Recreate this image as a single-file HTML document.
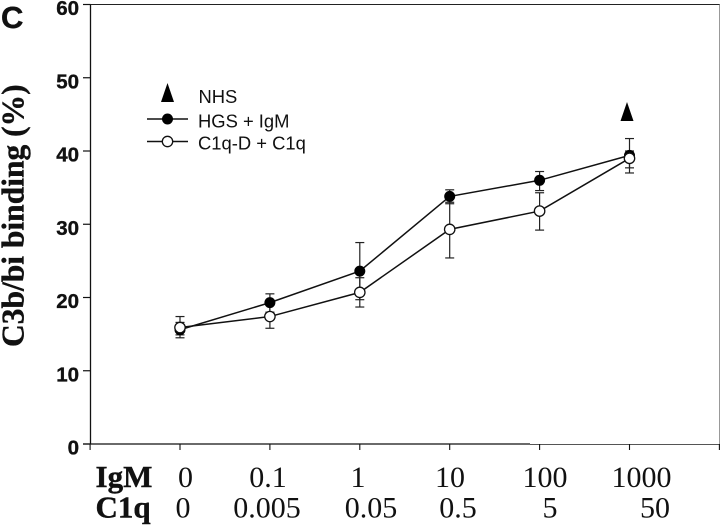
<!DOCTYPE html>
<html lang="en">
<head>
<meta charset="utf-8">
<title>C3b/bi binding chart</title>
<style>
html,body{margin:0;padding:0;background:#fff;width:720px;height:525px;overflow:hidden}
svg{display:block}
.ytick{font:bold 20.5px "Liberation Sans",sans-serif;fill:#111;stroke:#111;stroke-width:.35}
.leg{font:18.4px "Liberation Sans",sans-serif;fill:#111}
.xl{font:30px "Liberation Serif",serif;fill:#111;text-anchor:middle}
.xh{font:bold 31px "Liberation Serif",serif;fill:#111;stroke:#111;stroke-width:.4}
</style>
</head>
<body>
<svg id="chart" xmlns="http://www.w3.org/2000/svg" width="720" height="525" viewBox="0 0 720 525">
  <text x="1" y="28" style="font:bold 31px 'Liberation Sans',sans-serif;fill:#111;stroke:#111;stroke-width:.4">C</text>
  <text transform="translate(23.5,347) rotate(-90)" style="font:bold 31.5px 'Liberation Serif',serif;fill:#111;stroke:#111;stroke-width:.4">C3b/bi binding (%)</text>

  <g id="axes"></g>
  <g id="series"></g>

  <g>
    <polygon points="167.5,83 161,102 174,102" fill="#000"/>
    <text class="leg" x="198.5" y="103">NHS</text>
    <line x1="147" x2="188" y1="119" y2="119" stroke="#111" stroke-width="1.4"/>
    <circle cx="167.5" cy="119" r="5.5" fill="#000"/>
    <text class="leg" x="198" y="127.5">HGS + IgM</text>
    <line x1="147" x2="188" y1="141.5" y2="141.5" stroke="#111" stroke-width="1.4"/>
    <circle cx="167.5" cy="141.5" r="5.2" fill="#fff" stroke="#111" stroke-width="1.3"/>
    <text class="leg" x="198" y="149.5">C1q-D + C1q</text>
  </g>

  <g>
    <text class="xh" x="95.5" y="487">IgM</text>
    <text class="xl" x="185.5" y="487">0</text>
    <text class="xl" x="268" y="487">0.1</text>
    <text class="xl" x="358" y="487">1</text>
    <text class="xl" x="450" y="487">10</text>
    <text class="xl" x="545" y="487">100</text>
    <text class="xl" x="641.5" y="487">1000</text>
  </g>
  <g>
    <text class="xh" x="95.5" y="517.5">C1q</text>
    <text class="xl" x="183" y="517.5">0</text>
    <text class="xl" x="267" y="517.5">0.005</text>
    <text class="xl" x="371" y="517.5">0.05</text>
    <text class="xl" x="458" y="517.5">0.5</text>
    <text class="xl" x="550" y="517.5">5</text>
    <text class="xl" x="655" y="517.5">50</text>
  </g>
</svg>
<script>
const categories = ['0', '0.1', '1', '10', '100', '1000'];
const yTickValues = [0, 10, 20, 30, 40, 50, 60];
const hgsValues = [15.6, 19.3, 23.6, 33.8, 36.0, 39.4];
const hgsUpper = [16.6, 20.5, 27.5, 34.7, 37.2, 40.0];
const hgsLower = [14.5, 18.0, 19.7, 32.8, 34.6, 37.7];
const c1qValues = [15.9, 17.4, 20.7, 29.3, 31.8, 39.0];
const c1qUpper = [17.4, 19.0, 22.7, 33.0, 34.3, 41.7];
const c1qLower = [14.9, 15.8, 18.7, 25.4, 29.2, 37.0];
const nhsCategoryIndex = 5;
const nhsValue = 45.4;

const NS = 'http://www.w3.org/2000/svg';
const axes = document.getElementById('axes');
const series = document.getElementById('series');

function xScale(i) { return 180 + 89.9 * i; }
function yScale(v) { return 444 - (v / 60) * 439.5; }

function make(tag, parent, attrs) {
  const el = document.createElementNS(NS, tag);
  for (const k in attrs) el.setAttribute(k, attrs[k]);
  parent.appendChild(el);
  return el;
}

// axes
const yLine = make('line', axes, {x1: 90.5, x2: 90.5, y1: 4.5, y2: 444, stroke: '#111', 'stroke-width': 1.3});


const xLine = make('line', axes, {x1: 83, x2: 530, y1: 444, y2: 444, stroke: '#111', 'stroke-width': 1.3});


const xLineEnd = make('line', axes, {x1: 530, x2: 720, y1: 444.5, y2: 444.5, stroke: '#555', 'stroke-width': 1});


const topLine = make('line', axes, {x1: 83, x2: 720, y1: 4.5, y2: 4.5, stroke: '#222', 'stroke-width': 1.1});


const rightLine = make('line', axes, {x1: 719.5, x2: 719.5, y1: 4.5, y2: 444, stroke: '#999', 'stroke-width': 1});



yTickValues.forEach(function (v) {
  const y = yScale(v);
  const tick = make('line', axes, {x1: 83, x2: 90.5, y1: y, y2: y, stroke: '#111', 'stroke-width': 1.2});
  
  
  const label = make('text', axes, {x: 79, y: y + 10.5, 'text-anchor': 'end', class: 'ytick'});
  
  
  label.textContent = v;
});

for (let i = -1; i <= categories.length; i++) {
  const x = xScale(i);
  const tick = make('line', axes, {x1: x, x2: x, y1: 444, y2: 450, stroke: '#111', 'stroke-width': 1.1});
  
  
}

function drawErrorBars(upper, lower, name) {
  categories.forEach(function (c, i) {
    const x = xScale(i);
    const yU = yScale(upper[i]);
    const yL = yScale(lower[i]);
    const g = make('g', series, {stroke: '#222', 'stroke-width': 1.2});
    
    
    make('line', g, {x1: x, x2: x, y1: yU, y2: yL});
    make('line', g, {x1: x - 4.5, x2: x + 4.5, y1: yU, y2: yU});
    make('line', g, {x1: x - 4.5, x2: x + 4.5, y1: yL, y2: yL});
  });
}

function drawLine(values, name) {
  const pts = values.map(function (v, i) { return xScale(i) + ',' + yScale(v); }).join(' ');
  const line = make('polyline', series, {points: pts, fill: 'none', stroke: '#111', 'stroke-width': 1.5});
  
  
}

function drawPoints(values, name, attrs) {
  values.forEach(function (v, i) {
    const c = make('circle', series, Object.assign({cx: xScale(i), cy: yScale(v)}, attrs));
    
    
  });
}

drawErrorBars(hgsUpper, hgsLower, 'hgs-error-bar');
drawErrorBars(c1qUpper, c1qLower, 'c1q-error-bar');
drawLine(hgsValues, 'hgs-line');
drawLine(c1qValues, 'c1q-line');
drawPoints(hgsValues, 'hgs-point', {r: 5.5, fill: '#000'});
drawPoints(c1qValues, 'c1q-point', {r: 5.2, fill: '#fff', stroke: '#111', 'stroke-width': 1.3});

const nx = xScale(nhsCategoryIndex) - 2.5;
const ny = yScale(nhsValue);
const tri = make('polygon', series, {
  points: nx + ',' + (ny - 9.5) + ' ' + (nx - 6.5) + ',' + (ny + 9.5) + ' ' + (nx + 6.5) + ',' + (ny + 9.5),
  fill: '#000'
});


</script>
</body>
</html>
